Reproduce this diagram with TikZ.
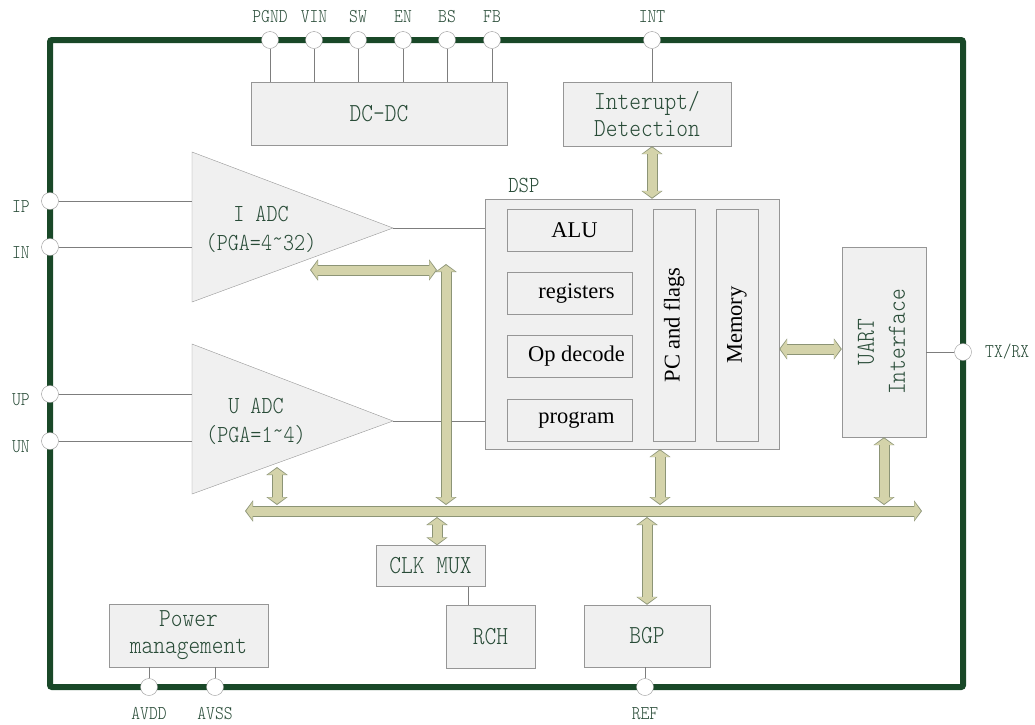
\documentclass[tikz,border=0pt]{standalone}
\usepackage{fontspec}
\usepackage{graphicx}
\setmainfont{Liberation Serif}
\newfontfamily\simfont[Extension=.otf, FakeStretch=0.86]{lmmonolt10-regular}
\usetikzlibrary{arrows.meta}
\definecolor{chipgreen}{RGB}{25,72,40}
\definecolor{txtgreen}{RGB}{40,75,55}
\definecolor{boxfill}{RGB}{240,240,240}
\definecolor{boxline}{RGB}{150,150,150}
\definecolor{wirecol}{RGB}{125,125,125}
\definecolor{busfill}{RGB}{212,211,170}
\definecolor{busline}{RGB}{140,148,118}
\begin{document}
\begin{tikzpicture}[x=1pt, y=-1pt,
    block/.style ={draw=boxline, fill=boxfill, inner sep=0pt, text=txtgreen, font=\simfont\fontsize{26}{27}\selectfont, align=center},
    unit/.style ={draw=boxline, fill=boxfill, inner sep=0pt, font=\fontsize{22.5}{26}\selectfont},
    adctext/.style ={text=txtgreen, font=\simfont\fontsize{24.5}{29}\selectfont, align=center},
    pin/.style ={circle, draw=boxline, fill=white, inner sep=0pt, minimum size=17pt},
    pinlbl/.style ={text=txtgreen, font=\simfont\fontsize{19.5}{20}\selectfont},
    wire/.style ={draw=wirecol, line width=0.8pt},
    bus/.style ={draw=busfill, line width=9pt, arrows={Triangle[width=18pt,length=6.5pt]-Triangle[width=18pt,length=6.5pt]}, shorten >=1.2pt, shorten <=1.2pt,
      preaction={draw=busline, line width=11pt, arrows={Triangle[width=21pt,length=8pt]-Triangle[width=21pt,length=8pt]}, shorten >=0pt, shorten <=0pt}}]
   \useasboundingbox (0,0) rectangle (1035,724);
   \draw[chipgreen, line width=6pt, rounded corners=2pt] (50,40) rectangle (963,687);

   % pins
   \node[pin, label={[pinlbl, label distance=5pt]above:PGND}] (pgnd) at (270,40) {};
   \node[pin, label={[pinlbl, label distance=5pt]above:VIN}] (vin) at (314,40) {};
   \node[pin, label={[pinlbl, label distance=5pt]above:SW}] (sw) at (358,40) {};
   \node[pin, label={[pinlbl, label distance=5pt]above:EN}] (en) at (403,40) {};
   \node[pin, label={[pinlbl, label distance=5pt]above:BS}] (bs) at (447,40) {};
   \node[pin, label={[pinlbl, label distance=5pt]above:FB}] (fb) at (492,40) {};
   \node[pin, label={[pinlbl, label distance=5pt]above:INT}] (int) at (652,40) {};
   \node[pin, label={[pinlbl, label distance=8pt, yshift=-6pt]left:IP}] (ip) at (50,201) {};
   \node[pin, label={[pinlbl, label distance=8pt, yshift=-6pt]left:IN}] (in) at (50,247) {};
   \node[pin, label={[pinlbl, label distance=8pt, yshift=-6pt]left:UP}] (up) at (50,394) {};
   \node[pin, label={[pinlbl, label distance=8pt, yshift=-6pt]left:UN}] (un) at (50,441) {};
   \node[pin, label={[pinlbl, label distance=10pt]right:TX/RX}] (txrx) at (963,352) {};
   \node[pin, label={[pinlbl, label distance=8pt]below:AVDD}] (avdd) at (149,687) {};
   \node[pin, label={[pinlbl, label distance=8pt]below:AVSS}] (avss) at (215,687) {};
   \node[pin, label={[pinlbl, label distance=8pt]below:REF}] (ref) at (645,687) {};

   % blocks
   \node[block, minimum width=256pt, minimum height=63pt] (dcdc) at (379,113.5) {DC-DC};
   \node[block, minimum width=168pt, minimum height=64pt] (intr) at (647,114) {Interupt/\\Detection};
   \node[block, minimum width=294pt, minimum height=250pt,
     label={[pinlbl, font=\simfont\fontsize{23}{24}\selectfont, anchor=south west, xshift=20pt, yshift=3pt]north west:DSP}] (dsp) at (632,324) {};
   \node[unit, minimum width=125pt, minimum height=42pt] (alu) at (569.5,230) {\hspace*{10pt}ALU};
   \node[unit, minimum width=125pt, minimum height=42pt] (regs) at (569.5,293) {\hspace*{14pt}registers};
   \node[unit, minimum width=125pt, minimum height=42pt] (opdec) at (569.5,356) {\hspace*{14pt}Op decode};
   \node[unit, minimum width=125pt, minimum height=42pt] (prog) at (569.5,420) {\hspace*{14pt}program};
   \node[unit, minimum width=42pt, minimum height=232pt] (pcf) at (674,325) {\rotatebox{90}{PC and flags}};
   \node[unit, minimum width=42pt, minimum height=232pt] (mem) at (737,325) {\rotatebox{90}{Memory}};
   \node[block, minimum width=84pt, minimum height=190pt] (uart) at (884,342) {\rotatebox{90}{\begin{tabular}{@{}c@{}}UART\\[4pt]Interface\end{tabular}}};
   \node[block, minimum width=109pt, minimum height=41pt] (clk) at (430.5,566) {CLK MUX};
   \node[block, minimum width=89pt, minimum height=63pt] (rch) at (490.5,636.5) {RCH};
   \node[block, minimum width=126pt, minimum height=62pt] (bgp) at (647,636) {BGP};
   \node[block, minimum width=159pt, minimum height=63pt] (pwr) at (188.5,635.5) {Power\\management};

   % converters
   \draw[draw=boxline, fill=boxfill] (192,152) coordinate (ia) -- (393,228) coordinate (iout) -- (192,302) -- cycle;
   \node[adctext] (iadc) at (261,229.5) {I ADC\\(PGA=4\raisebox{.4ex}{\textasciitilde}32)};
   \draw[draw=boxline, fill=boxfill] (192,344) coordinate (ua) -- (393,421) coordinate (uout) -- (192,494) -- cycle;
   \node[adctext] (uadc) at (256,421.5) {U ADC\\(PGA=1\raisebox{.4ex}{\textasciitilde}4)};

   % wires
   \draw[wire] (pgnd) -- (pgnd |- dcdc.north);
   \draw[wire] (vin) -- (vin |- dcdc.north);
   \draw[wire] (sw) -- (sw |- dcdc.north);
   \draw[wire] (en) -- (en |- dcdc.north);
   \draw[wire] (bs) -- (bs |- dcdc.north);
   \draw[wire] (fb) -- (fb |- dcdc.north);
   \draw[wire] (int) -- (int |- intr.north);
   \draw[wire] (ip) -- (ip -| ia);
   \draw[wire] (in) -- (in -| ia);
   \draw[wire] (up) -- (up -| ua);
   \draw[wire] (un) -- (un -| ua);
   \draw[wire] (iout) -- (iout -| dsp.west);
   \draw[wire] (uout) -- (uout -| dsp.west);
   \draw[wire] (uart.east |- txrx) -- (txrx);
   \draw[wire] (avdd) -- (avdd |- pwr.south);
   \draw[wire] (avss) -- (avss |- pwr.south);
   \draw[wire] (ref) -- (ref |- bgp.south);
   \draw[wire] ([xshift=37.5pt]clk.south) -- ([xshift=37.5pt]clk.south |- rch.north);

   % buses
   \coordinate (busl) at (245,511);
   \coordinate (busr) at (922,511);
   \coordinate (bustop) at (0,505);
   \coordinate (busbot) at (0,517);
   \coordinate (mu) at (0,349);
   \coordinate (ih) at (310,270);
   \coordinate (ihr) at (437,270);
   \coordinate (iv) at (446,264);
   \coordinate (uv) at (277,467);
   \coordinate (dv) at (660,0);
   \coordinate (cv) at (437,0);
   \draw[bus] (busl) -- (busr);
   \draw[bus] (int |- intr.south) -- (int |- dsp.north);
   \draw[bus] (dsp.east |- mu) -- (uart.west |- mu);
   \draw[bus] (ih) -- (ihr);
   \draw[bus] (iv) -- (iv |- bustop);
   \draw[bus] (uv) -- (uv |- bustop);
   \draw[bus] (dv |- dsp.south) -- (dv |- bustop);
   \draw[bus] (uart.south) -- (uart.south |- bustop);
   \draw[bus] (cv |- busbot) -- (cv |- clk.north);
   \draw[bus] (bgp.north |- busbot) -- (bgp.north);
 \end{tikzpicture}
\end{document}
